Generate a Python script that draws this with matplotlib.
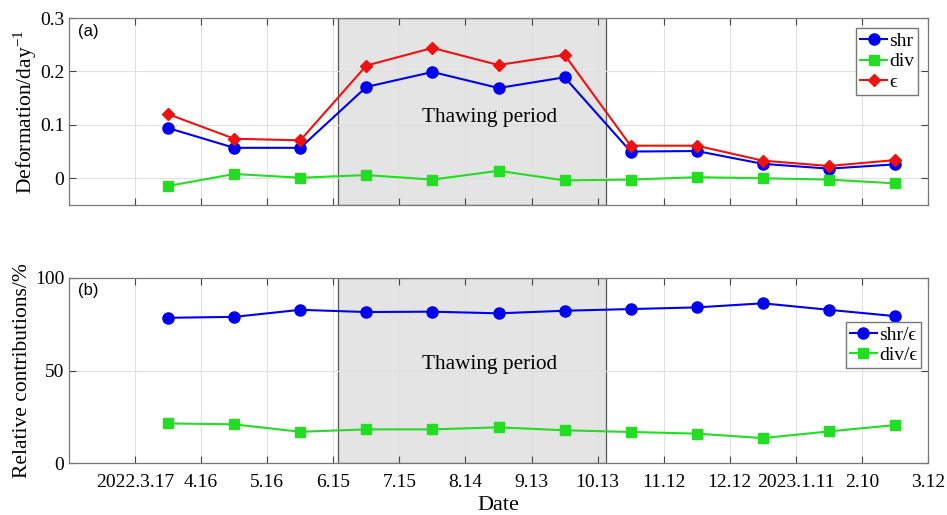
import numpy as np
import matplotlib
matplotlib.use('Agg')
import matplotlib.pyplot as plt

plt.rcParams['font.family'] = ['Liberation Serif', 'DejaVu Serif']
plt.rcParams['mathtext.fontset'] = 'custom'
plt.rcParams['mathtext.rm'] = 'Liberation Serif'

# Days since 2022.2.15 ; sampling every 30 days
tick_days = np.arange(30, 391, 30)
tick_labels = ['2022.3.17', '4.16', '5.16', '6.15', '7.15', '8.14', '9.13',
               '10.13', '11.12', '12.12', '2023.1.11', '2.10', '3.12']
obs_days = np.arange(45, 376, 30)

shr = [0.094, 0.057, 0.057, 0.171, 0.199, 0.169, 0.189, 0.050, 0.051, 0.027, 0.018, 0.026]
div = [-0.0145, 0.008, 0.001, 0.006, -0.0025, 0.014, -0.004, -0.0025, 0.002, 0.0, -0.0025, -0.0095]
eps = [0.120, 0.074, 0.071, 0.211, 0.244, 0.212, 0.231, 0.061, 0.061, 0.033, 0.023, 0.034]

shr_ratio = [78.4, 78.9, 82.7, 81.5, 81.7, 80.8, 82.2, 83.1, 84.0, 86.2, 82.7, 79.3]
div_ratio = [21.5, 21.0, 17.0, 18.3, 18.3, 19.4, 17.8, 16.9, 16.0, 13.6, 17.2, 20.6]

thaw_start, thaw_end = 122, 244

fig = plt.figure(figsize=(9.47, 5.15), dpi=100)
ax1 = fig.add_axes([0.0729, 0.602, 0.907, 0.363])
ax2 = fig.add_axes([0.0729, 0.1003, 0.907, 0.3605])


def style_axes(ax):
    ax.set_xlim(0, 390)
    ax.set_xticks(tick_days)
    ax.grid(True, color='#e0e0e0', linewidth=0.8)
    ax.set_axisbelow(True)
    ax.tick_params(direction='in', top=True, right=True, length=5,
                   color='#444444', labelsize=14)
    ax.tick_params(axis='x', pad=8)
    for s in ax.spines.values():
        s.set_color('#777777')
        s.set_linewidth(0.9)
    ax.axvspan(thaw_start, thaw_end, facecolor='#e4e4e4', edgecolor='#555555',
               linewidth=0.9, zorder=0.5)


leg_kw = dict(fontsize=14, handlelength=1.4, handletextpad=0.1, borderpad=0.2,
              labelspacing=0.15, fancybox=False, framealpha=1)

style_axes(ax1)
ax1.set_ylim(-0.05, 0.3)
ax1.set_yticks([0, 0.1, 0.2, 0.3])
ax1.set_yticklabels(['0', '0.1', '0.2', '0.3'])
ax1.set_xticklabels([])
ax1.plot(obs_days, shr, '-o', color='#0000ee', ms=8, lw=1.5, label='shr', zorder=3)
ax1.plot(obs_days, div, '-s', color='#22dd22', ms=7, lw=1.5, label='div', zorder=3)
ax1.plot(obs_days, eps, '-D', color='#ee1111', ms=6.5, lw=1.5, label='ϵ', zorder=3)
ax1.text(191, 0.113, 'Thawing period', fontsize=15.3, ha='center', va='center')
ax1.text(0.0105, 0.93, '(a)', transform=ax1.transAxes, fontsize=12,
         family='Liberation Sans', va='center')
ax1.set_ylabel(r'Deformation/day$^{\mathrm{-1}}$', fontsize=15.5)
ax1.yaxis.set_label_coords(-0.035, 0.5)
leg1 = ax1.legend(loc='upper right', bbox_to_anchor=(0.993, 0.965),
                  borderaxespad=0.2, **leg_kw)
leg1.get_frame().set_edgecolor('#777777')

style_axes(ax2)
ax2.set_ylim(0, 100)
ax2.set_yticks([0, 50, 100])
ax2.set_xticklabels(tick_labels)
ax2.plot(obs_days, shr_ratio, '-o', color='#0000ee', ms=8, lw=1.5,
         label='shr/ϵ', zorder=3)
ax2.plot(obs_days, div_ratio, '-s', color='#22dd22', ms=7, lw=1.5,
         label='div/ϵ', zorder=3)
ax2.text(191, 53.5, 'Thawing period', fontsize=15.3, ha='center', va='center')
ax2.text(0.0105, 0.93, '(b)', transform=ax2.transAxes, fontsize=12,
         family='Liberation Sans', va='center')
ax2.set_ylabel('Relative contributions/%', fontsize=15.5)
ax2.yaxis.set_label_coords(-0.043, 0.5)
ax2.set_xlabel('Date', fontsize=16, labelpad=3)
leg2 = ax2.legend(loc='upper right', bbox_to_anchor=(0.992, 0.76),
                  borderaxespad=0.0, **leg_kw)
leg2.get_frame().set_edgecolor('#777777')

fig.savefig('out.png', dpi=100)
